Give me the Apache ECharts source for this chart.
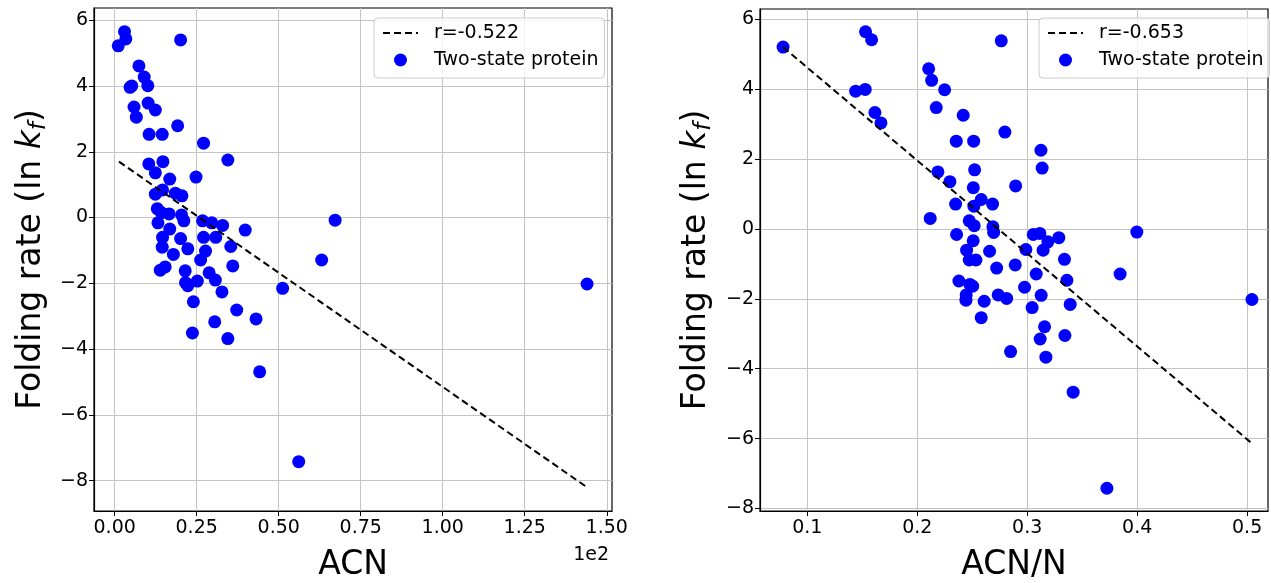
<!DOCTYPE html>
<html>
<head>
<meta charset="utf-8">
<script src="https://cdn.jsdelivr.net/npm/echarts@6/dist/echarts.min.js"></script>
<style>
html, body { margin: 0; padding: 0; background: #fff; }
#chartsdiv { width: 1271px; height: 583px; }
</style>
</head>
<body>
<div id="chartsdiv"></div>
<script>
// left panel: ACN (raw units, axis shows x/100 with a "1e2" offset)
var acn = [3.0, 3.4, 1.1, 20.1, 7.4, 9.0, 5.2, 4.7, 10.1, 5.9, 10.2, 12.4, 6.6, 19.2, 10.5, 14.5, 27.1, 34.5, 10.4, 14.7,
    12.4, 16.8, 24.8, 12.4, 14.6, 18.5, 20.5, 13.0, 14.2, 16.6, 20.4, 21.1, 13.2, 26.8, 29.6, 32.9, 39.8, 16.8, 14.6, 20.1,
    27.1, 30.8, 14.5, 22.3, 35.4, 27.7, 26.2, 17.9, 36.0, 15.4, 13.9, 21.5, 28.8, 30.7, 21.6, 22.3, 25.2, 32.7, 24.0, 37.2,
    43.1, 30.5, 23.7, 34.5, 51.2, 63.1, 67.2, 44.2, 56.1, 144.0];
var rateL = [5.65, 5.43, 5.22, 5.40, 4.61, 4.27, 4.00, 3.96, 4.01, 3.36, 3.48, 3.27, 3.05, 2.79, 2.53, 2.53, 2.26, 1.75, 1.63, 1.70,
    1.36, 1.17, 1.23, 0.71, 0.84, 0.74, 0.66, 0.27, 0.15, 0.11, 0.08, -0.10, -0.16, -0.10, -0.16, -0.24, -0.38, -0.35, -0.60, -0.64,
    -0.60, -0.60, -0.90, -0.95, -0.88, -1.02, -1.29, -1.12, -1.47, -1.50, -1.60, -1.62, -1.68, -1.90, -1.98, -2.07, -1.93, -2.26, -2.56, -2.81,
    -3.08, -3.17, -3.51, -3.68, -2.15, -1.29, -0.08, -4.69, -7.42, -2.02];
var fitXL = [1.3, 144];
var fitYL = [1.70, -8.2];

// right panel: ACN/N
var acnN = [0.078, 0.153, 0.1585, 0.2764, 0.144, 0.1527, 0.2104, 0.2131, 0.2249, 0.1615, 0.167, 0.2173, 0.2418, 0.2797, 0.2355,
    0.2513, 0.3125, 0.3136, 0.2188, 0.2297, 0.2522, 0.251, 0.2895, 0.2349, 0.2582, 0.2685, 0.2515, 0.2118, 0.2473,
    0.2518, 0.2688, 0.2695, 0.2358, 0.3055, 0.3115, 0.3188, 0.3288, 0.2988, 0.3145, 0.2509, 0.2449, 0.2658, 0.2473, 0.2534,
    0.3339, 0.2722, 0.2891, 0.3082, 0.3845, 0.2379, 0.2479, 0.2504, 0.3361, 0.2976, 0.3127, 0.2445, 0.2443, 0.2609, 0.2736,
    0.2813, 0.3391, 0.3045, 0.2582, 0.3158, 0.3343, 0.3118, 0.2849, 0.317, 0.3418, 0.3997, 0.5044, 0.3725];
var rateR = [5.20, 5.64, 5.41, 5.38, 3.94, 3.99, 4.58, 4.25, 3.98, 3.33, 3.03, 3.47, 3.25, 2.77, 2.51,
    2.51, 2.25, 1.74, 1.63, 1.35, 1.69, 1.18, 1.23, 0.71, 0.84, 0.71, 0.65, 0.30, 0.23,
    0.09, 0.06, -0.10, -0.16, -0.16, -0.13, -0.37, -0.25, -0.59, -0.61, -0.34, -0.61, -0.64, -0.89, -0.89,
    -0.87, -1.12, -1.03, -1.29, -1.29, -1.49, -1.59, -1.64, -1.47, -1.67, -1.90, -1.89, -2.04, -2.07, -1.89,
    -1.99, -2.16, -2.25, -2.54, -2.80, -3.05, -3.15, -3.51, -3.67, -4.67, -0.09, -2.02, -7.42];
var fitXR = [0.078, 0.503];
var fitYR = [5.20, -6.1];

var xTicksL = [0, 25, 50, 75, 100, 125, 150];
var xTicksR = [0.1, 0.2, 0.3, 0.4, 0.5];
var yTicks = [-8, -6, -4, -2, 0, 2, 4, 6];

function pairs(xs, ys) {
    return xs.map(function (x, i) { return [x, ys[i]]; });
}
function minus(s) {
    return String(s).replace('-', '\u2212');
}

var FONT = 'DejaVu Sans';
var tickLabel = { color: '#000', fontSize: 19, fontFamily: FONT };

function xAxisOf(idx, min, max, ticks, fmt, name) {
    return {
        type: 'value', gridIndex: idx, min: min, max: max,
        name: name, nameLocation: 'middle', nameGap: 38,
        nameTextStyle: { color: '#000', fontSize: 33, fontFamily: FONT },
        axisLine: { show: true, onZero: false, lineStyle: { color: '#000', width: 1.2 } },
        axisTick: { show: true, length: 5, customValues: ticks, lineStyle: { color: '#000' } },
        axisLabel: Object.assign({ customValues: ticks, margin: 8, formatter: fmt }, tickLabel),
        splitLine: { show: true, lineStyle: { color: '#c4c4c4', width: 1 } }
    };
}
function yAxisOf(idx, min, max, gap) {
    return {
        type: 'value', gridIndex: idx, min: min, max: max,
        name: 'Folding rate (ln {k|k}{f|f})', nameLocation: 'middle', nameRotate: 90, nameGap: gap,
        nameTextStyle: {
            color: '#000', fontSize: 33, fontFamily: FONT, lineHeight: 40,
            rich: {
                k: { fontSize: 33, fontStyle: 'italic', fontFamily: FONT, color: '#000', lineHeight: 40 },
                f: { fontSize: 23, fontStyle: 'italic', fontFamily: FONT, color: '#000', verticalAlign: 'bottom', lineHeight: 40 }
            }
        },
        axisLine: { show: true, onZero: false, lineStyle: { color: '#000', width: 1.2 } },
        axisTick: { show: true, length: 5, customValues: yTicks, lineStyle: { color: '#000' } },
        axisLabel: Object.assign({ customValues: yTicks, margin: 6, formatter: function (v) { return minus(v); } }, tickLabel),
        splitLine: { show: true, lineStyle: { color: '#c4c4c4', width: 1 } }
    };
}
function legendOf(left, rName) {
    return {
        orient: 'vertical', left: left, top: 18,
        data: [{ name: rName, itemStyle: { opacity: 0 } }, 'Two-state protein'],
        itemWidth: 35, itemHeight: 13, itemGap: 7,
        padding: [5, 6, 8, 8],
        backgroundColor: 'rgba(255,255,255,0.8)',
        borderColor: '#cccccc', borderWidth: 1, borderRadius: 4,
        textStyle: { color: '#000', fontSize: 19, lineHeight: 20, fontFamily: FONT, padding: [0, 0, 0, 11] },
        selectedMode: false
    };
}

var myChart = echarts.init(document.getElementById('chartsdiv'));
var option = {
    animation: false,
    backgroundColor: '#fff',
    grid: [
        { left: 94, right: 659, top: 8, bottom: 72, outerBoundsMode: 'none', show: true, borderColor: '#000', borderWidth: 1.2, backgroundColor: 'transparent' },
        { left: 760, right: 3, top: 9, bottom: 72, outerBoundsMode: 'none', show: true, borderColor: '#000', borderWidth: 1.2, backgroundColor: 'transparent' }
    ],
    xAxis: [
        xAxisOf(0, -6.3, 151.6, xTicksL, function (v) { return (v / 100).toFixed(2); }, 'ACN'),
        xAxisOf(1, 0.057, 0.519, xTicksR, function (v) { return v.toFixed(1); }, 'ACN/N')
    ],
    yAxis: [
        yAxisOf(0, -8.92, 6.37, 43),
        yAxisOf(1, -8.07, 6.29, 44)
    ],
    legend: [legendOf(374, 'r=-0.522'), legendOf(1039, 'r=-0.653')],
    series: [
        {
            name: 'Two-state protein', type: 'scatter', xAxisIndex: 0, yAxisIndex: 0,
            data: pairs(acn, rateL), symbolSize: 13, itemStyle: { color: '#0000ff', opacity: 1 }, z: 2
        },
        {
            name: 'r=-0.522', type: 'line', xAxisIndex: 0, yAxisIndex: 0,
            data: pairs(fitXL, fitYL), showSymbol: false, symbol: 'none',
            lineStyle: { color: '#000', width: 2, type: [7, 4] }, itemStyle: { color: '#000' }, z: 3
        },
        {
            name: 'Two-state protein', type: 'scatter', xAxisIndex: 1, yAxisIndex: 1,
            data: pairs(acnN, rateR), symbolSize: 13, itemStyle: { color: '#0000ff', opacity: 1 }, z: 2
        },
        {
            name: 'r=-0.653', type: 'line', xAxisIndex: 1, yAxisIndex: 1,
            data: pairs(fitXR, fitYR), showSymbol: false, symbol: 'none',
            lineStyle: { color: '#000', width: 2, type: [7, 4] }, itemStyle: { color: '#000' }, z: 3
        }
    ],
    graphic: [
        { type: 'text', right: 662, top: 546, style: { text: '1e2', fill: '#000', fontSize: 19, fontFamily: FONT } }
    ]
};
myChart.setOption(option);
</script>
</body>
</html>
